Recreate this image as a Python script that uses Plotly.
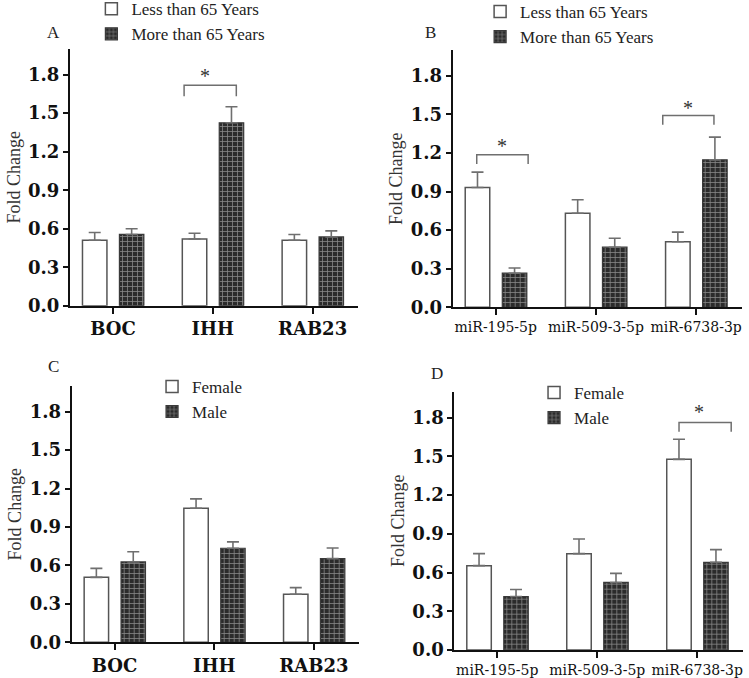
import plotly.graph_objects as go

# ---------------- data ----------------
genes = ["BOC", "IHH", "RAB23"]
mirnas = ["miR-195-5p", "miR-509-3-5p", "miR-6738-3p"]
age_groups = ["Less than 65 Years", "More than 65 Years"]
sex_groups = ["Female", "Male"]

a_young = [0.51, 0.52, 0.51]
a_young_err = [0.06, 0.045, 0.045]
a_old = [0.555, 1.425, 0.536]
a_old_err = [0.045, 0.125, 0.047]

b_young = [0.931, 0.731, 0.51]
b_young_err = [0.12, 0.105, 0.074]
b_old = [0.265, 0.467, 1.146]
b_old_err = [0.04, 0.07, 0.177]

c_female = [0.507, 1.046, 0.375]
c_female_err = [0.07, 0.073, 0.052]
c_male = [0.627, 0.734, 0.653]
c_male_err = [0.08, 0.05, 0.083]

d_female = [0.653, 0.746, 1.476]
d_female_err = [0.093, 0.114, 0.156]
d_male = [0.414, 0.523, 0.679]
d_male_err = [0.055, 0.07, 0.098]

# significance brackets: (panel, x_left, x_right, y_top, y_leg_end, star_x, star_y)
brackets = [
    ("A", 0.713, 1.236, 1.717, 1.632, 0.924, 1.79),
    ("B", -0.19, 0.323, 1.185, 1.113, 0.06, 1.25),
    ("B", 1.667, 2.178, 1.491, 1.419, 1.92, 1.553),
    ("D", 1.818, 2.34, 1.761, 1.689, 2.02, 1.84),
]

y_ticks = [0.0, 0.3, 0.6, 0.9, 1.2, 1.5, 1.8]

# ---------------- layout geometry ----------------
W, H = 749, 678
panels = {
    "A": dict(xa="x", ya="y", cats=genes, s1=(a_young, a_young_err), s2=(a_old, a_old_err),
              names=age_groups, legend="legend", bold=True,
              xdom=[70 / W, 358 / W], ydom=[1 - 305.7 / H, 1 - 49 / H]),
    "B": dict(xa="x2", ya="y2", cats=mirnas, s1=(b_young, b_young_err), s2=(b_old, b_old_err),
              names=age_groups, legend="legend2", bold=False,
              xdom=[452.7 / W, 741.7 / W], ydom=[1 - 307.3 / H, 1 - 50 / H]),
    "C": dict(xa="x3", ya="y3", cats=genes, s1=(c_female, c_female_err), s2=(c_male, c_male_err),
              names=sex_groups, legend="legend3", bold=True,
              xdom=[71.7 / W, 359.3 / W], ydom=[1 - 642.3 / H, 1 - 386 / H]),
    "D": dict(xa="x4", ya="y4", cats=mirnas, s1=(d_female, d_female_err), s2=(d_male, d_male_err),
              names=sex_groups, legend="legend4", bold=False,
              xdom=[454.3 / W, 742.7 / W], ydom=[1 - 650 / H, 1 - 391.7 / H]),
}

SERIF = "Liberation Serif, Times New Roman, serif"
WIDE_SERIF = "DejaVu Serif, serif"
BAR_W = 0.245

fig = go.Figure()
for key, p in panels.items():
    xs = list(range(len(p["cats"])))
    vals1, err1 = p["s1"]
    vals2, err2 = p["s2"]
    fig.add_trace(go.Bar(
        x=xs, y=vals1, width=BAR_W, offset=-0.305, name=p["names"][0],
        xaxis=p["xa"], yaxis=p["ya"], legend=p["legend"],
        marker=dict(color="white", line=dict(color="#555555", width=1.5)),
        error_y=dict(type="data", array=err1, arrayminus=[0] * len(err1), symmetric=False,
                     color="#6f6f6f", thickness=1.6, width=6),
    ))
    fig.add_trace(go.Bar(
        x=xs, y=vals2, width=BAR_W, offset=0.065, name=p["names"][1],
        xaxis=p["xa"], yaxis=p["ya"], legend=p["legend"],
        marker=dict(color="#2e2e2e", line=dict(color="#3a3a3a", width=1.2),
                    pattern=dict(shape="+", fgcolor="#8a8a8a", bgcolor="#2b2b2b",
                                 size=5, solidity=0.28, fillmode="replace")),
        error_y=dict(type="data", array=err2, arrayminus=[0] * len(err2), symmetric=False,
                     color="#6f6f6f", thickness=1.6, width=6),
    ))

for panel, x0, x1, yt, yl, sx, sy in brackets:
    p = panels[panel]
    fig.add_trace(go.Scatter(
        x=[x0, x0, x1, x1], y=[yl, yt, yt, yl], mode="lines",
        line=dict(color="#6f6f6f", width=1.5), showlegend=False, hoverinfo="skip",
        xaxis=p["xa"], yaxis=p["ya"],
    ))
    fig.add_annotation(x=sx, y=sy, xref=p["xa"], yref=p["ya"], text="*", showarrow=False,
                       font=dict(family=SERIF, size=20, color="#333333"), yanchor="middle")

layout = dict(
    width=W, height=H, margin=dict(l=0, r=0, t=0, b=0, autoexpand=False),
    paper_bgcolor="white", plot_bgcolor="white", barmode="overlay",
    font=dict(family=SERIF, color="#222222"),
)

for key, p in panels.items():
    xname = "xaxis" + p["xa"][1:]
    yname = "yaxis" + p["ya"][1:]
    if p["bold"]:
        xfont = dict(family=WIDE_SERIF, size=18, color="#111111", weight="bold")
    else:
        xfont = dict(family=WIDE_SERIF, size=14, color="#111111")
    layout[xname] = dict(
        domain=p["xdom"], anchor=p["ya"], range=[-0.43, 2.455],
        tickvals=list(range(len(p["cats"]))), ticktext=p["cats"], tickfont=xfont,
        showline=True, linecolor="#111111", linewidth=2, ticks="outside", ticklen=6,
        tickwidth=2, tickcolor="#111111", showgrid=False, zeroline=False, fixedrange=True,
        automargin=False,
    )
    layout[yname] = dict(
        domain=p["ydom"], anchor=p["xa"], range=[0, 2.0], tickvals=y_ticks,
        ticktext=[f"{v:.1f}" for v in y_ticks],
        tickfont=dict(family=WIDE_SERIF, size=18, color="#111111", weight="bold"),
        showline=True, linecolor="#111111", linewidth=2, ticks="outside", ticklen=5,
        tickwidth=1.5, tickcolor="#111111", showgrid=False, zeroline=False, automargin=False,
        fixedrange=True,
        title=dict(text="Fold Change", font=dict(family=SERIF, size=18, color="#333333"), standoff=3),
    )

legend_pos = {
    "legend": (0.122, 1.013),
    "legend2": (0.641, 1.009),
    "legend3": (0.203, 0.456),
    "legend4": (0.713, 0.447),
}
for lg, (lx, ly) in legend_pos.items():
    layout[lg] = dict(x=lx, y=ly, xanchor="left", yanchor="top", bgcolor="rgba(0,0,0,0)",
                      font=dict(family=SERIF, size=17, color="#222222"), tracegroupgap=0)

labels = [("A", 53 / W, 1 - 32 / H), ("B", 430 / W, 1 - 33 / H),
          ("C", 53 / W, 1 - 366.7 / H), ("D", 436.7 / W, 1 - 373.3 / H)]

fig.update_layout(**layout)
for t, lx, ly in labels:
    fig.add_annotation(text=t, x=lx, y=ly, xref="paper", yref="paper", showarrow=False,
                       xanchor="center", yanchor="middle",
                       font=dict(family=SERIF, size=17, color="#222222"))

fig.write_html("out.html", config={"displayModeBar": False},
               post_script="document.body.style.margin='0';document.body.style.overflow='hidden';")
